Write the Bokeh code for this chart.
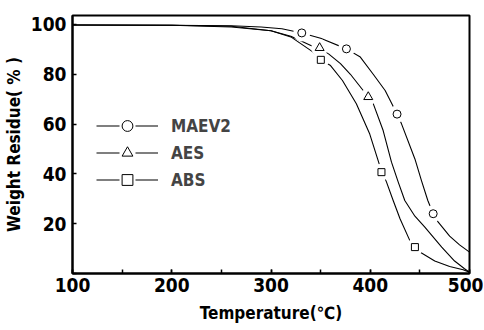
from bokeh.plotting import figure
from bokeh.models import Range1d, SingleIntervalTicker, Legend, LegendItem
from bokeh.embed import file_html
from bokeh.resources import INLINE

# ---- data ----
maev2_T = [100, 200, 260, 290, 311, 331, 350, 376, 390, 403, 415, 427, 431.5, 445, 451.6, 458, 463.4, 468.5, 480, 490, 500]
maev2_W = [99.8, 99.7, 99.5, 99.0, 98.3, 96.6, 94.5, 90.2, 86.9, 80.0, 73.5, 64.0, 60.1, 46.0, 37.3, 29.3, 24.0, 20.6, 15.0, 11.5, 8.6]

aes_T = [100, 200, 260, 300, 320, 344, 349, 358, 370, 380, 391.5, 398, 403, 413, 421.4, 428.2, 434.8, 445, 455, 472, 485, 495, 500]
aes_W = [99.8, 99.7, 99.3, 97.5, 95.3, 90.9, 90.3, 88.2, 84.3, 80.0, 74.2, 70.9, 68.2, 57.4, 44.7, 36.7, 29.3, 23.0, 18.6, 10.6, 5.0, 1.9, 0.5]

abs_T = [100, 200, 260, 300, 320, 342.5, 350, 360, 372, 386, 399.5, 409, 411.3, 416.4, 423.1, 430, 439.8, 445, 450, 465, 480, 493.6, 500]
abs_W = [99.8, 99.7, 99.0, 97.5, 95.0, 88.9, 85.8, 83.5, 77.5, 68.2, 56.0, 44.0, 41.5, 36.7, 29.3, 22.0, 13.3, 10.6, 8.6, 5.0, 2.8, 1.5, 0.5]

maev2_mT = [331, 376, 427, 463.4]
maev2_mW = [96.6, 90.2, 64.0, 24.0]
aes_mT = [349, 398]
aes_mW = [90.6, 70.9]
abs_mT = [350.2, 411.3, 445]
abs_mW = [85.8, 40.7, 10.6]

series = ["MAEV2", "AES", "ABS"]
markers = ["circle", "triangle", "square"]

FONT = "DejaVu Sans Condensed, Roboto"
NAN = float("nan")

p = figure(width=482, height=328, frame_width=397, frame_height=258,
           output_backend="svg", toolbar_location=None,
           x_range=Range1d(100, 500), y_range=Range1d(0, 103.6),
           min_border_left=71, min_border_right=14, min_border_top=15, min_border_bottom=55)
p.background_fill_color = "white"
p.border_fill_color = "white"
p.xgrid.visible = False
p.ygrid.visible = False
p.outline_line_color = "black"
p.outline_line_width = 2

# curves
for T, W in [(maev2_T, maev2_W), (aes_T, aes_W), (abs_T, abs_W)]:
    p.line(T, W, line_color="black", line_width=1.1, line_join="round")

# markers with white halo (gaps in the lines)
for (mT, mW), mk, sz in [((maev2_mT, maev2_mW), "circle", 8),
                         ((aes_mT, aes_mW), "triangle", 9),
                         ((abs_mT, abs_mW), "square", 7)]:
    p.scatter(mT, mW, marker="circle", size=17, fill_color="white", line_color=None)
    p.scatter(mT, mW, marker=mk, size=sz, fill_color="white", line_color="black", line_width=1)

# legend built from renderers that draw nothing in the plot
items = []
for name, mk in zip(series, markers):
    rl = p.line([NAN], [NAN], line_color="black", line_width=1.1, line_dash="23 16")
    rm = p.scatter([NAN], [NAN], marker=mk, fill_color="white", line_color="black", line_width=1)
    items.append(LegendItem(label=name, renderers=[rl, rm], index=0))
legend = Legend(items=items, location=(24, 80), orientation="vertical",
                glyph_width=62, glyph_height=27, spacing=0, padding=0, margin=0,
                label_standoff=13, label_text_font=FONT, label_text_font_style="bold",
                label_text_font_size="17px", label_text_baseline="middle",
                border_line_color=None, background_fill_alpha=0)
p.add_layout(legend, "center")

# axes
p.xaxis.ticker = SingleIntervalTicker(interval=100, num_minor_ticks=2)
p.yaxis.ticker = SingleIntervalTicker(interval=20, num_minor_ticks=0)
p.yaxis.major_label_overrides = {0: ""}
for ax in (p.xaxis[0], p.yaxis[0]):
    ax.axis_line_width = 2
    ax.axis_line_color = "black"
    ax.major_tick_in = 4
    ax.major_tick_out = 0
    ax.minor_tick_in = 4
    ax.minor_tick_out = 0
    ax.major_tick_line_width = 1.5
    ax.minor_tick_line_width = 1.5
    ax.major_label_text_font = FONT
    ax.major_label_text_font_style = "bold"
    ax.major_label_text_font_size = "19px"
    ax.major_label_text_color = "black"
    ax.axis_label_text_font = FONT
    ax.axis_label_text_font_style = "bold"
    ax.axis_label_text_font_size = "17px"
    ax.axis_label_text_color = "black"
p.xaxis.major_label_standoff = 4
p.yaxis.major_label_standoff = 6
p.xaxis.axis_label = "Temperature(℃)"
p.yaxis.axis_label = "Weight Residue( % )"
p.xaxis.axis_label_standoff = 8
p.yaxis.axis_label_standoff = 4

open("out.html", "w").write(file_html(p, INLINE))
